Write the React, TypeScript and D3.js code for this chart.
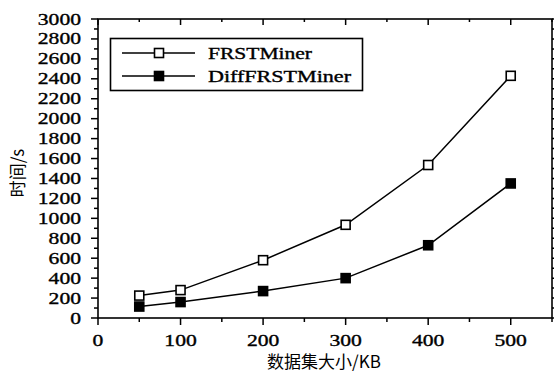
import React from "react";
import * as d3 from "d3";

const sizes = [50, 100, 200, 300, 400, 500];
const frstMiner = [225, 280, 580, 935, 1535, 2430];
const diffFrstMiner = [115, 160, 270, 400, 730, 1350];
const seriesNames = ["FRSTMiner", "DiffFRSTMiner"];
const legendWidths = [104, 143];
const xTicks = [0, 100, 200, 300, 400, 500];
const yTicks = [0, 200, 400, 600, 800, 1000, 1200, 1400, 1600, 1800, 2000, 2200, 2400, 2600, 2800, 3000];
const xLabel = "数据集大小/KB";
const yLabel = "时间/s";

const W = 554, H = 374;
const L = 98, R = 552, T = 19, B = 318;
const serif = "'Liberation Serif', 'Times New Roman', serif";
const cjk = "'Noto Sans CJK SC', sans-serif";

export default function App() {
  const x = d3.scaleLinear().domain([0, 550]).range([L, R]);
  const y = d3.scaleLinear().domain([0, 3000]).range([B, T]);
  const line = d3.line<number>().x((_, i) => x(sizes[i])).y((d) => y(d));
  const xMinor = d3.range(0, 551, 50);
  const yMinor = d3.range(0, 3001, 100);
  const series = [
    { name: seriesNames[0], values: frstMiner, fill: "#fff" },
    { name: seriesNames[1], values: diffFrstMiner, fill: "#000" },
  ];
  const ms = 9;
  const digitW = 10.8;
  const thick = { stroke: "#000", strokeWidth: 0.35 };
  return (
    <svg width={W} height={H} style={{ position: "absolute", left: 0, top: 0, background: "#fff" }}>
      <rect x={0} y={0} width={W} height={H} fill="#fff" />
      <rect x={L} y={T} width={R - L} height={B - T} fill="none" stroke="#000" strokeWidth={1.6} />
      {xMinor.map((v) => {
        const major = v % 100 === 0;
        return (
          <g key={"xt" + v}>
            <line x1={x(v)} x2={x(v)} y1={B} y2={B + (major ? 7 : 4)} stroke="#000" strokeWidth={1.5} />
            <line x1={x(v)} x2={x(v)} y1={T} y2={T + (major ? 6 : 3)} stroke="#000" strokeWidth={1.5} />
          </g>
        );
      })}
      {yMinor.map((v) => {
        const major = v % 200 === 0;
        return (
          <g key={"yt" + v}>
            <line x1={L} x2={L - (major ? 7 : 4)} y1={y(v)} y2={y(v)} stroke="#000" strokeWidth={1.5} />
            <line x1={R} x2={R + 3} y1={y(v)} y2={y(v)} stroke="#000" strokeWidth={1.5} />
          </g>
        );
      })}
      {xTicks.map((v) => {
        const s = String(v);
        return (
          <text key={"xl" + v} x={x(v)} y={346} textAnchor="middle" fontFamily={serif} fontSize={16}
            textLength={s.length * digitW} lengthAdjust="spacingAndGlyphs" fill="#000" {...thick}>
            {s}
          </text>
        );
      })}
      {yTicks.map((v) => {
        const s = String(v);
        return (
          <text key={"yl" + v} x={81 - s.length * digitW} y={y(v) + 5.5} fontFamily={serif} fontSize={16}
            textLength={s.length * digitW} lengthAdjust="spacingAndGlyphs" fill="#000" {...thick}>
            {s}
          </text>
        );
      })}
      <text x={324} y={368} textAnchor="middle" fontFamily={cjk} fontSize={17} fill="#000">
        {xLabel}
      </text>
      <text transform={`translate(24,173) rotate(-90)`} textAnchor="middle" fontFamily={cjk} fontSize={17} fill="#000">
        {yLabel}
      </text>
      {series.map((s) => (
        <g key={s.name}>
          <path d={line(s.values) || ""} fill="none" stroke="#000" strokeWidth={1.5} />
          {s.values.map((v, i) => (
            <rect key={i} x={x(sizes[i]) - ms / 2} y={y(v) - ms / 2} width={ms} height={ms} fill={s.fill} stroke="#000" strokeWidth={1.6} />
          ))}
        </g>
      ))}
      <rect x={110.5} y={38.5} width={252} height={52} fill="#fff" stroke="#000" strokeWidth={1.6} />
      {series.map((s, i) => {
        const cy = 53 + i * 23;
        return (
          <g key={"lg" + s.name}>
            <line x1={122} x2={195} y1={cy} y2={cy} stroke="#000" strokeWidth={1.5} />
            <rect x={159 - ms / 2} y={cy - ms / 2} width={ms} height={ms} fill={s.fill} stroke="#000" strokeWidth={1.6} />
            <text x={208} y={cy + 5.5} fontFamily={serif} fontSize={16} textLength={legendWidths[i]}
              lengthAdjust="spacingAndGlyphs" fill="#000" {...thick}>
              {s.name}
            </text>
          </g>
        );
      })}
    </svg>
  );
}
